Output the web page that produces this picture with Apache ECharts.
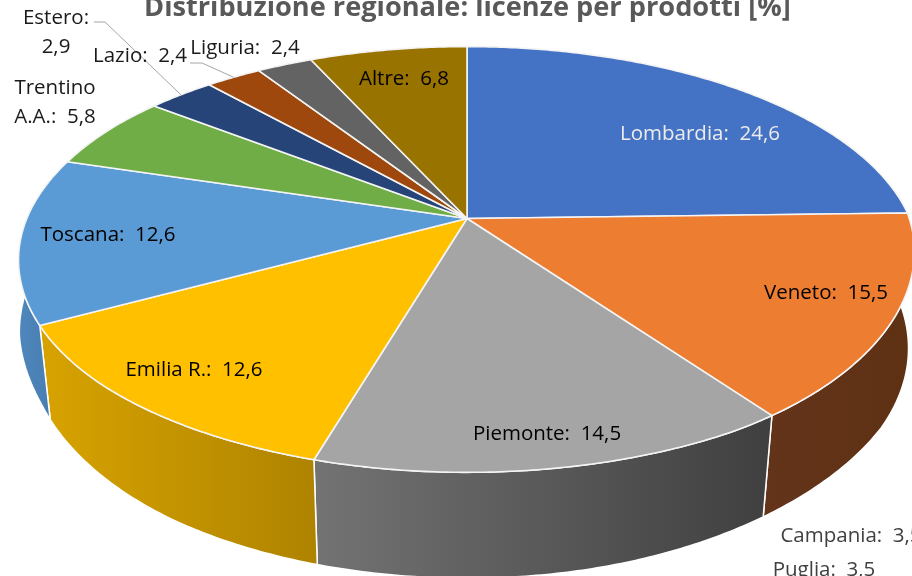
<!DOCTYPE html>
<html>
<head>
<meta charset="utf-8">
<style>html,body{margin:0;padding:0;background:#fff}#c{width:912px;height:576px}</style>
<script src="https://cdn.jsdelivr.net/npm/echarts@6/dist/echarts.min.js"></script>
</head>
<body>
<div id="c"></div>
<script>
var titleText = 'Distribuzione regionale: licenze per prodotti [%]';
var categories = ['Lombardia','Veneto','Piemonte','Emilia R.','Toscana','Trentino\nA.A.','Estero','Lazio','Liguria','Altre'];
var values = [24.6,15.5,14.5,12.6,12.6,5.8,2.9,2.4,2.4,6.8];
var unplottedCategories = ['Campania','Puglia'];
var unplottedValues = [3.5,3.5];

// styles and layout, kept apart from the data
var topColors = ['#4472C4','#ED7D31','#A5A5A5','#FFC000','#5B9BD5','#70AD47','#264478','#9E480E','#636363','#997300'];
var wallLeft  = ['#2f5597','#63341a','#737373','#d8a300','#4f86bb','#4d7a30','#1a2f52','#6a300a','#444','#6a5000'];
var wallRight = ['#2f5597','#5f3113','#3f3f3f','#ae8300','#447aae','#4d7a30','#1a2f52','#6a300a','#444','#6a5000'];
var labelCenters = [[700,134],[826,293],[547,434],[194,370],[108,235],[55,103],[56,33],[140,56],[245,48],[404,79]];
var labelColors = ['#ececec','#000','#000','#000','#000','#1a1a1a','#1a1a1a','#1a1a1a','#1a1a1a','#000'];
var leaderStarts = {6:[[94,22],[105,22]], 7:[[190,63],[202,63]]};
var unplottedCenters = [[851,536],[824,570]];
var FONT = '"Open Sans"';
var FS = 20.5;

// perspective of the tilted disc
var CX=467, CY=218.5, A=443, C=205, K=0.1924, DEPTH=85.5, SHRINK=0.022;
var total = values.reduce(function(a,b){return a+b;},0);
function ang(pct){return pct*2*Math.PI;}
function bell(deg,a,b,amp){return deg>a&&deg<b ? amp*Math.sin(Math.PI*(deg-a)/(b-a)) : 0;}
function rawRim(t){
  var X=Math.sin(t), Y=-Math.cos(t), w=1-K*Y;
  return [CX+A*X/w, CY+C*Y/w, w];
}
function rim(t){
  var p=rawRim(t), deg=t*180/Math.PI;
  p[0]+= -bell(deg,88,150,7) + bell(deg,225,300,3);
  return p;
}
function low(t){
  var p=rawRim(t), deg=t*180/Math.PI;
  var flare = deg>245 && deg<=290 ? 24*Math.pow((deg-245)/45,1.3) : 0;
  var x = CX+(p[0]-CX)*(1-SHRINK)-flare - bell(deg,120,170,4) + bell(deg,215,262,3);
  return [x, p[1]+DEPTH/p[2]];
}
function arc(t0,t1,fn){
  var n=Math.max(2,Math.ceil((t1-t0)/0.01)), pts=[];
  for(var i=0;i<=n;i++) pts.push(fn(t0+(t1-t0)*i/n).slice(0,2));
  return pts;
}
function range(api,idx){
  var before=0;
  for(var i=0;i<idx;i++) before+=values[i];
  return [ang(before/total), ang((before+api.value(0))/total)];
}
function walls(params,api){
  var i=params.dataIndex, r=range(api,i);
  var top=arc(r[0],r[1],rim), bot=arc(r[0],r[1],low).reverse();
  var xs=top.concat(bot).map(function(p){return p[0];});
  return {type:'polygon',shape:{points:top.concat(bot)},style:{
    fill:{type:'linear',x:Math.min.apply(null,xs),y:0,x2:Math.max.apply(null,xs),y2:0,global:true,
      colorStops:[{offset:0,color:wallLeft[i]},{offset:1,color:wallRight[i]}]},
    stroke:'#fff',lineWidth:1.5,lineJoin:'round'}};
}
function tops(params,api){
  var i=params.dataIndex, r=range(api,i);
  return {type:'polygon',shape:{points:[[CX,CY]].concat(arc(r[0],r[1],rim))},
    style:{fill:topColors[i],stroke:'#f4f4f4',lineWidth:1.6,lineJoin:'round'}};
}
function fmt(v){return v.toFixed(1).replace('.',',');}
function labelsItem(params,api){
  var i=params.dataIndex, r=range(api,i), c=labelCenters[i];
  var sep = categories[i]==='Estero' ? ':\n' : ':  ';
  var kids=[{type:'text',x:c[0],y:c[1],style:{
    text:categories[i]+sep+fmt(api.value(0)),
    fill:labelColors[i],font:FS+'px '+FONT,align:'center',verticalAlign:'middle',lineHeight:29}}];
  if(leaderStarts[i]){
    var m=rim((r[0]+r[1])/2).slice(0,2);
    kids.push({type:'polyline',shape:{points:leaderStarts[i].concat([m])},
      style:{fill:'none',stroke:'#a6a6a6',lineWidth:1}});
  }
  return {type:'group',children:kids};
}
var dataRows = values.map(function(v,i){return {name:categories[i],value:[v]};});
var chart = echarts.init(document.getElementById('c'),null,{renderer:'canvas'});
chart.setOption({
  animation:false,
  backgroundColor:'#fff',
  title:{text:titleText,left:144,top:-5,padding:0,
    textStyle:{fontFamily:FONT,fontSize:27.2,fontWeight:'bold',color:'#595959'}},
  tooltip:{show:false},
  series:[
    {type:'custom',coordinateSystem:'none',renderItem:walls,data:dataRows,z:1,silent:true},
    {type:'custom',coordinateSystem:'none',renderItem:tops,data:dataRows,z:2,silent:true},
    {type:'custom',coordinateSystem:'none',renderItem:labelsItem,data:dataRows,z:3,silent:true}
  ],
  graphic:unplottedCategories.map(function(n,i){
    return {type:'text',x:unplottedCenters[i][0],y:unplottedCenters[i][1],z:4,
      style:{text:n+':  '+fmt(unplottedValues[i]),fill:'#404040',font:FS+'px '+FONT,align:'center',verticalAlign:'middle'}};
  })
});
</script>
</body>
</html>
